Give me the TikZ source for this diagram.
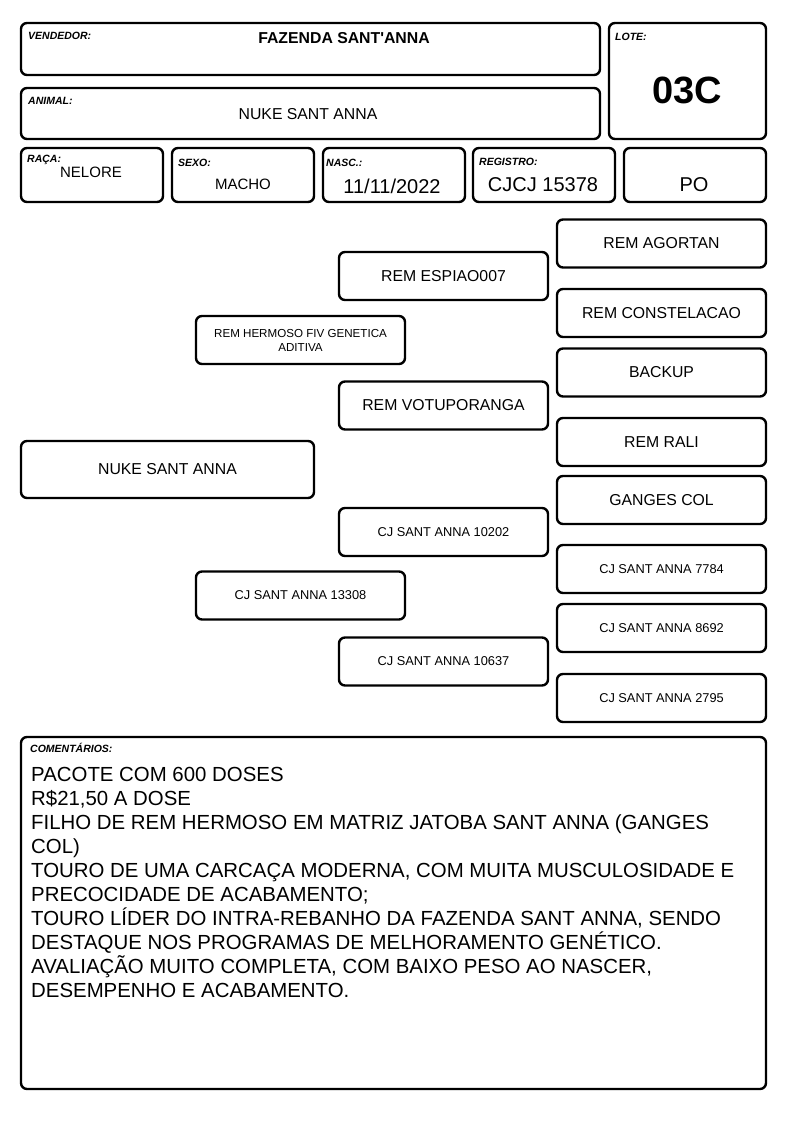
\documentclass[tikz,border=0pt]{standalone}
\usepackage{fontspec}
\setmainfont{Liberation Sans}
\usetikzlibrary{positioning}

\begin{document}
\begin{tikzpicture}[x=1pt, y=-1pt,
    box/.style={draw, rounded corners=6pt, line width=2.4pt, inner sep=2pt, align=center},
    head/.style={box, minimum height=52pt},
    cell/.style={box, minimum width=142pt, minimum height=54pt},
    anc/.style={box, minimum width=209pt, minimum height=48pt},
    tag/.style={font=\fontsize{10.5}{12}\selectfont\bfseries\itshape, inner sep=0pt, anchor=north west},
    big/.style={font=\fontsize{15.8}{18}\selectfont},
    small/.style={font=\fontsize{12.8}{15}\selectfont},
    val/.style={font=\fontsize{20}{22}\selectfont}]

   \useasboundingbox (0,0) rectangle (794,1123);

   % Header
    \node[head, minimum width=579pt] (vend) at (310.5,49) {};
    \node[tag] (vendtag) at (28,32) {VENDEDOR:};
    \node[font=\fontsize{15.8}{18}\selectfont\bfseries] (vendname) at (344,38) {FAZENDA SANT\textquotesingle ANNA};

    \node[box, minimum width=157pt, minimum height=116pt] (lote) at (687.5,81) {};
    \node[tag] (lotetag) at (615,33) {LOTE:};
    \node[font=\fontsize{38}{40}\selectfont\bfseries] (lotenum) at (687,90) {03C};

    \node[head, minimum width=579pt, minimum height=51pt] (anim) at (310.5,113.5) {};
    \node[tag] (animtag) at (28,97) {ANIMAL:};
    \node[big] (animname) at (308,114) {NUKE SANT ANNA};

   % Data row
    \node[cell] (raca) at (92,175) {};
    \node[tag] (racatag) at (27,155) {RAÇA:};
    \node[font=\fontsize{15}{17}\selectfont] (racaval) at (91,172.5) {NELORE};

    \node[cell] (sexo) at (243,175) {};
    \node[tag] (sexotag) at (178,159) {SEXO:};
    \node[font=\fontsize{15}{17}\selectfont] (sexoval) at (243,184) {MACHO};

    \node[cell] (nasc) at (394,175) {};
    \node[tag] (nasctag) at (326,159) {NASC.:};
    \node[val] (nascval) at (392,186) {11/11/2022};

    \node[cell] (reg) at (544,175) {};
    \node[tag] (regtag) at (479,158) {REGISTRO:};
    \node[val] (regval) at (543,185) {CJCJ 15378};

    \node[cell] (cat) at (695,175) {};
    \node[val] (catval) at (694,185) {PO};

   % Pedigree
    \node[box, big, minimum width=293pt, minimum height=57pt] (animal) at (167.5,469.5) {NUKE SANT ANNA};

    \node[anc, font=\fontsize{11.6}{14}\selectfont] (sire) at (300.5,340) {REM HERMOSO FIV GENETICA\\ADITIVA};
    \node[anc, small] (dam) at (300.5,595.5) {CJ SANT ANNA 13308};

    \node[anc, big] (ss) at (443.5,276) {REM ESPIAO007};
    \node[anc, big] (sd) at (443.5,405.5) {REM VOTUPORANGA};
    \node[anc, small] (ds) at (443.5,532) {CJ SANT ANNA 10202};
    \node[anc, small] (dd) at (443.5,661.5) {CJ SANT ANNA 10637};

    \node[anc, big] (sss) at (661.5,243.5) {REM AGORTAN};
    \node[anc, big] (ssd) at (661.5,313) {REM CONSTELACAO};
    \node[anc, big] (sds) at (661.5,372.5) {BACKUP};
    \node[anc, big] (sdd) at (661.5,442) {REM RALI};
    \node[anc, big] (dss) at (661.5,500) {GANGES COL};
    \node[anc, small] (dsd) at (661.5,569) {CJ SANT ANNA 7784};
    \node[anc, small] (dds) at (661.5,628) {CJ SANT ANNA 8692};
    \node[anc, small] (ddd) at (661.5,698) {CJ SANT ANNA 2795};

   % Comments
    \node[box, minimum width=745pt, minimum height=352pt] (coment) at (393.5,913) {};
    \node[tag] (comenttag) at (30,743) {COMENTÁRIOS:};
    \node[font=\fontsize{20.4}{24}\selectfont, align=left, anchor=north west, inner sep=0pt] (comenttext) at (31,767)
      {PACOTE COM 600 DOSES\\
       R\$21,50 A DOSE\\
       FILHO DE REM HERMOSO EM MATRIZ JATOBA SANT ANNA (GANGES\\
       COL)\\
       TOURO DE UMA CARCAÇA MODERNA, COM MUITA MUSCULOSIDADE E\\
       PRECOCIDADE DE ACABAMENTO;\\
       TOURO LÍDER DO INTRA-REBANHO DA FAZENDA SANT ANNA, SENDO\\
       DESTAQUE NOS PROGRAMAS DE MELHORAMENTO GENÉTICO.\\
       AVALIAÇÃO MUITO COMPLETA, COM BAIXO PESO AO NASCER,\\
       DESEMPENHO E ACABAMENTO.};
\end{tikzpicture}
\end{document}
